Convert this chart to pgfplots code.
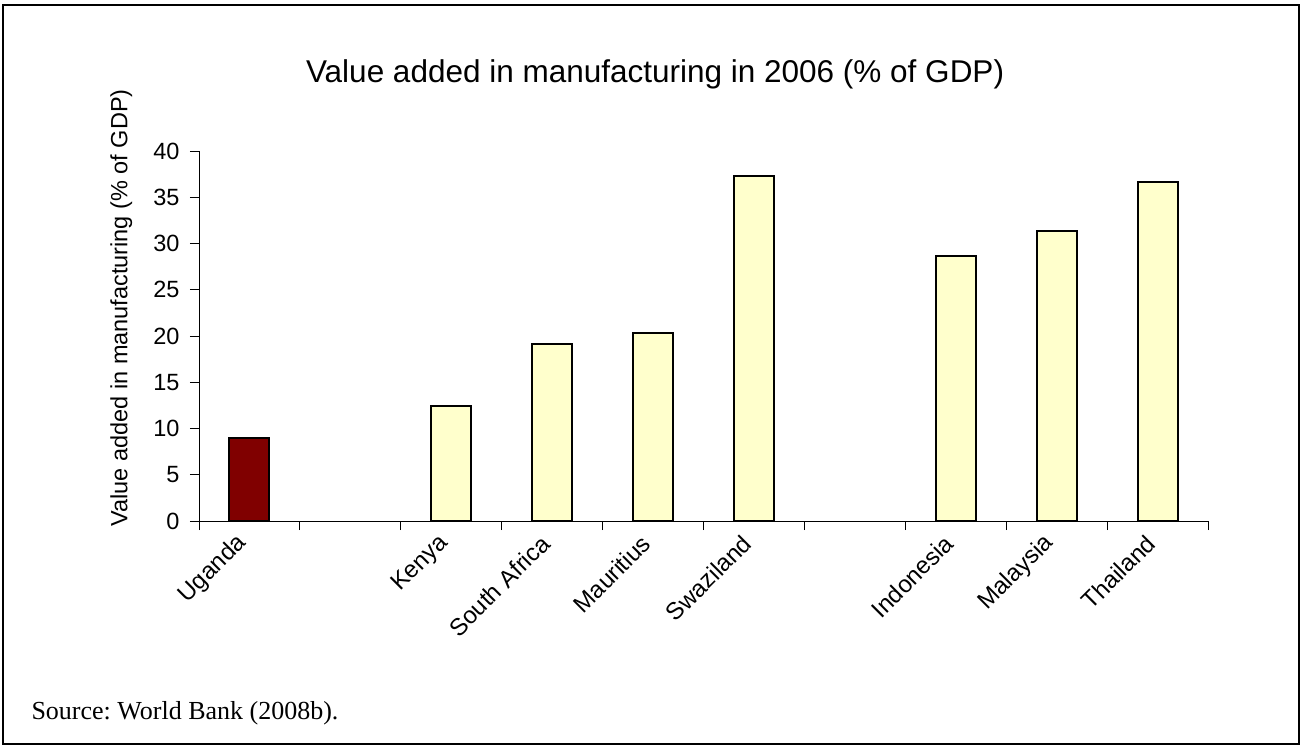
\documentclass[border=0pt]{standalone}
\usepackage{fontspec}
\setmainfont{Liberation Sans}
\newfontfamily\timesfont{Liberation Serif}
\usepackage{pgfplots}
\pgfplotsset{compat=1.18}
\definecolor{ugbar}{RGB}{128,0,0}
\definecolor{ltyellow}{RGB}{255,255,204}
\begin{document}
\frenchspacing
\begin{tikzpicture}[x=1pt,y=1pt]
\useasboundingbox (0,0) rectangle (1302,748);
\draw[line width=2.8pt] (3,4) rectangle (1299,743);
\begin{axis}[
  at={(199pt,227pt)}, anchor=south west,
  scale only axis, width=1009pt, height=370pt,
  xmin=-0.5, xmax=9.5, ymin=0, ymax=40,
  axis lines*=left,
  axis line style={line width=0.9pt, -},
  tick align=outside,
  major tick length=9pt, minor tick length=9pt,
  ytick={0,5,...,40},
  xtick={0,2,3,4,5,7,8,9},
  xticklabels={Uganda,Kenya,South Africa,Mauritius,Swaziland,Indonesia,Malaysia,Thailand},
  minor xtick={-0.5,0.5,...,9.5},
  major x tick style={draw=none},
  tick style={line width=0.9pt, black},
  /pgf/number format/assume math mode=true,
  xticklabel style={rotate=45, anchor=east, xshift=-8pt, yshift=-2pt, font=\fontsize{24}{26}\selectfont},
  yticklabel style={font=\fontsize{23.5}{26}\selectfont, xshift=-7pt},
  title={Value added in manufacturing in 2006 (\% of GDP)},
  title style={at={(axis description cs:0.452,1.17)}, anchor=base, font=\fontsize{31.5}{36}\selectfont},
  ylabel={Value added in manufacturing (\% of GDP)},
  ylabel style={at={(axis description cs:-0.077,0.576)}, anchor=center, font=\fontsize{23.5}{26}\selectfont},
  clip=false,
]
\addplot[ybar, bar width=40pt, bar shift=0pt, fill=ugbar, draw=black, line width=2pt] coordinates {(0,9.0)};
\addplot[ybar, bar width=40pt, bar shift=0pt, fill=ltyellow, draw=black, line width=2pt] coordinates {
(2,12.4) (3,19.1) (4,20.3) (5,37.3) (7,28.7) (8,31.4) (9,36.6)};
\end{axis}
\node[anchor=base west, font=\timesfont\fontsize{26}{30}\selectfont] at (28,29) {Source: World Bank (2008b).};
\end{tikzpicture}
\end{document}
